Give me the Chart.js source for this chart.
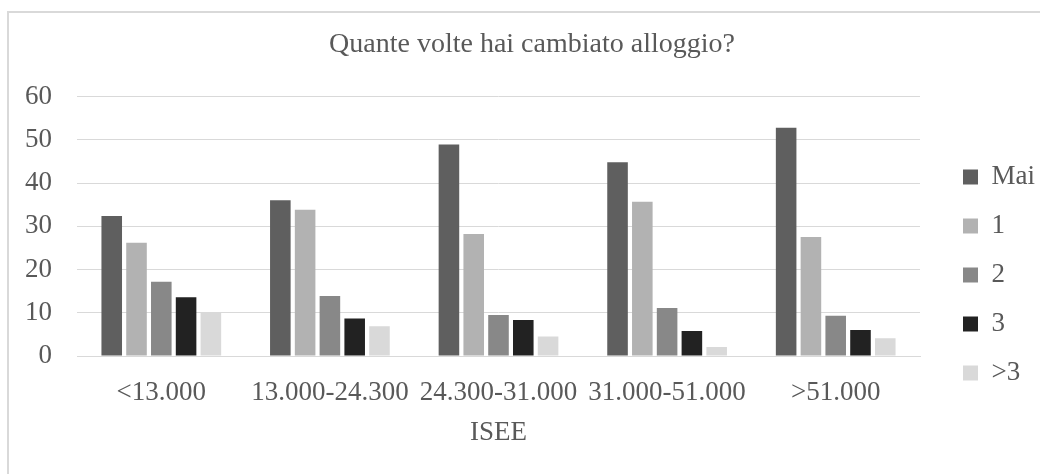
<!DOCTYPE html>
<html lang="it">
<head>
<meta charset="utf-8">
<title>Quante volte hai cambiato alloggio?</title>
<script src="https://cdn.jsdelivr.net/npm/chart.js@4.4.1/dist/chart.umd.min.js"></script>
<style>
  html, body { margin: 0; padding: 0; background: #fff; overflow: hidden; }
  #wrap { position: relative; width: 1040px; height: 474px; overflow: hidden; }
  #frame {
    position: absolute; left: 7px; top: 11px;
    width: 1100px; height: 500px;
    border: 2px solid #d9d9d9; box-sizing: border-box;
  }
  canvas { position: absolute; left: 0; top: 0; }
</style>
</head>
<body>
<div id="wrap">
  <div id="frame"></div>
  <canvas id="chart" width="1045" height="474"></canvas>
</div>
<script>
'use strict';

// ── Data ─────────────────────────────────────────────────────
const categories = ['<13.000', '13.000-24.300', '24.300-31.000', '31.000-51.000', '>51.000'];
const seriesNames = ['Mai', '1', '2', '3', '>3'];
const mai   = [32.4, 36.0, 48.9, 44.8, 52.8];
const one   = [26.2, 33.8, 28.2, 35.7, 27.5];
const two   = [17.2, 13.9, 9.5, 11.1, 9.3];
const three = [13.6, 8.7, 8.3, 5.8, 6.0];
const more  = [10.0, 6.9, 4.5, 2.1, 4.1];
const yTicks = [0, 10, 20, 30, 40, 50, 60];

// ── Styling ──────────────────────────────────────────────────
const FONT  = "'Liberation Serif', 'DejaVu Serif', serif";
const TEXT  = '#595959';
const GRID  = '#d9d9d9';
const COLORS = ['#5f5f5f', '#b2b2b2', '#888888', '#222222', '#d9d9d9'];

const seriesValues = [mai, one, two, three, more];

const datasets = seriesNames.map((name, i) => ({
  label: name,
  data: seriesValues[i],
  backgroundColor: COLORS[i],
  borderWidth: 0,
  barPercentage: 0.83,
  categoryPercentage: 0.735,
}));

new Chart(document.getElementById('chart').getContext('2d'), {
  type: 'bar',
  data: { labels: categories, datasets },
  options: {
    responsive: false,
    animation: false,
    devicePixelRatio: 1,
    layout: { padding: { left: 19, right: 0, top: 10, bottom: 0 } },
    plugins: {
      title: {
        display: true,
        text: 'Quante volte hai cambiato alloggio?',
        color: TEXT,
        font: { family: FONT, size: 28, weight: 'normal' },
        padding: { top: 18, bottom: 35 },
      },
      legend: {
        position: 'right',
        // empty title only pushes the legend items down
        title: {
          display: true,
          text: ' ',
          font: { family: FONT, size: 10, lineHeight: 1 },
          padding: { top: 56, bottom: 0 },
        },
        labels: {
          color: TEXT,
          font: { family: FONT, size: 27 },
          boxWidth: 15,
          boxHeight: 15,
          padding: 22,
        },
      },
      tooltip: { enabled: false },
    },
    scales: {
      x: {
        afterFit: s => { s.height = 118; },
        grid: { display: false },
        border: { color: GRID, width: 1 },
        ticks: {
          color: TEXT,
          font: { family: FONT, size: 27 },
          padding: 13,
          maxRotation: 0,
          autoSkip: false,
        },
        title: {
          display: true,
          text: 'ISEE',
          color: TEXT,
          font: { family: FONT, size: 27 },
          padding: { top: 0, bottom: 25 },
        },
      },
      y: {
        min: yTicks[0],
        max: yTicks[yTicks.length - 1],
        afterBuildTicks: s => { s.ticks = yTicks.map(v => ({ value: v })); },
        afterFit: s => { s.width = 58; },
        grid: { color: GRID, lineWidth: 1, drawTicks: false },
        border: { display: false },
        ticks: {
          color: TEXT,
          font: { family: FONT, size: 27 },
          padding: 25,
        },
      },
      // empty spacer between the plot and the legend
      gap: {
        position: 'right',
        display: true,
        grid: { display: false, drawTicks: false },
        border: { display: false },
        ticks: { display: false },
        afterFit: s => { s.width = 21; },
      },
    },
  },
});
</script>
</body>
</html>
